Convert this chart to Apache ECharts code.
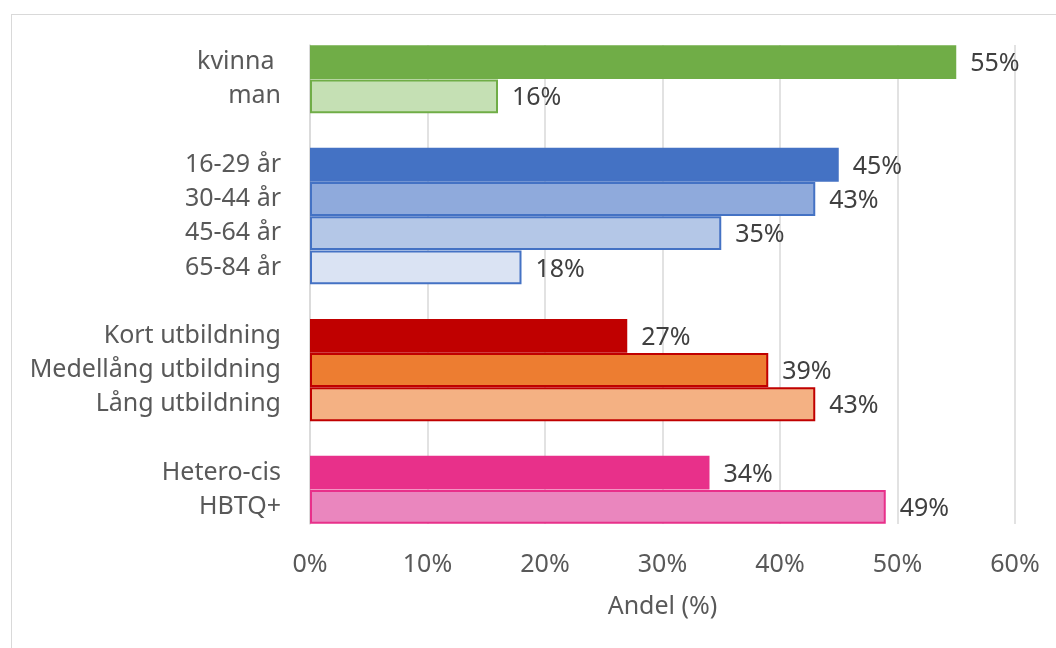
<!DOCTYPE html>
<html>
<head>
<meta charset="utf-8">
<script src="https://cdn.jsdelivr.net/npm/echarts@6/dist/echarts.min.js"></script>
<style>
html,body{margin:0;padding:0;background:#fff;}
#frame{position:absolute;left:11px;top:14px;width:1060px;height:650px;border:1.5px solid #d9d9d9;box-sizing:border-box;}
#chart{position:absolute;left:0;top:0;width:1056px;height:648px;}
</style>
</head>
<body>
<div id="frame"></div>
<div id="chart"></div>
<script>
// Data
const categories = ['kvinna ', 'man', ' ', '16-29 år', '30-44 år', '45-64 år', '65-84 år', '  ', 'Kort utbildning', 'Medellång utbildning', 'Lång utbildning', '   ', 'Hetero-cis', 'HBTQ+'];
const values = [55, 16, null, 45, 43, 35, 18, null, 27, 39, 43, null, 34, 49];
const xTicks = [0, 10, 20, 30, 40, 50, 60];
const axisTitle = 'Andel (%)';

// Styles
const fillColors = ['#70AD47', '#C5E0B4', null, '#4472C4', '#8FAADC', '#B4C7E7', '#DAE3F3', null, '#C00000', '#ED7D31', '#F4B183', null, '#E8308A', '#EA86BE'];
const borderColors = ['#70AD47', '#70AD47', null, '#4472C4', '#4472C4', '#4472C4', '#4472C4', null, '#C00000', '#C00000', '#C00000', null, '#E8308A', '#E8308A'];

const FONT = 'Noto Sans';
const FS = 25;
const chart = echarts.init(document.getElementById('chart'), null, {renderer: 'canvas'});

const seriesData = values.map((v, i) => v === null ? null : {
  value: v,
  itemStyle: {color: fillColors[i], borderColor: borderColors[i], borderWidth: 2}
});

chart.setOption({
  animation: false,
  grid: {left: 310, right: 41, top: 45, bottom: 124, containLabel: false},
  xAxis: {
    type: 'value', min: xTicks[0], max: xTicks[xTicks.length - 1], interval: 10,
    axisLine: {show: false}, axisTick: {show: false},
    splitLine: {show: true, lineStyle: {color: '#d9d9d9', width: 1.5}},
    axisLabel: {formatter: v => v + '%', color: '#595959', fontSize: FS, fontFamily: FONT, margin: 28},
    name: axisTitle, nameLocation: 'middle', nameGap: 70,
    nameTextStyle: {color: '#595959', fontSize: FS, fontFamily: FONT}
  },
  yAxis: {
    type: 'category', data: categories, inverse: true,
    axisLine: {show: true, lineStyle: {color: '#d9d9d9', width: 1.5}},
    axisTick: {show: false},
    axisLabel: {color: '#595959', fontSize: FS, fontFamily: FONT, margin: 29, interval: 0}
  },
  series: [{
    type: 'bar', data: seriesData, barCategoryGap: '1%',
    label: {show: true, position: 'right', distance: 14, formatter: p => p.value + '%', color: '#404040', fontSize: FS, fontFamily: FONT, offset: [0, 2]}
  }]
});
</script>
</body>
</html>
